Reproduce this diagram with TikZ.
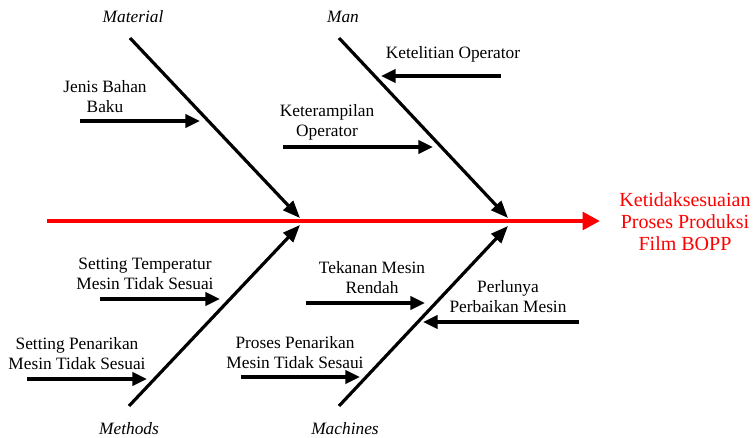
\documentclass[tikz,border=0pt]{standalone}
\usepackage{fontspec}
\setmainfont{Liberation Serif}
\usepackage{xcolor}
\usetikzlibrary{arrows.meta,positioning}

\begin{document}
\begin{tikzpicture}[
    x=0.75pt, y=-0.75pt,
    cause/.style={align=center, inner sep=0pt, font=\fontsize{13}{15}\selectfont},
    category/.style={inner sep=0pt, font=\fontsize{13}{15}\selectfont\itshape},
    effect/.style={align=center, inner sep=0pt, text=red, font=\fontsize{15}{16.5}\selectfont},
    spine/.style={-{Triangle[length=13pt, width=13pt]}, line width=3.6pt, red},
    bone/.style={-{Triangle[length=13pt, width=10pt]}, line width=2.4pt},
    arrow/.style={-{Triangle[length=11pt, width=10pt]}, line width=2.4pt}
]
    \useasboundingbox (0,0) rectangle (753,438);

    % head and spine
    \coordinate (tail) at (47,221);
    \node[effect] (effect) at (685,222) {Ketidaksesuaian\\Proses Produksi\\Film BOPP};
    \coordinate (head) at (600,221);
    \draw[spine] (tail) -- (head);

    % main bones
    \node[category] (material) at (133,17) {Material};
    \node[category] (man) at (343,17) {Man};
    \node[category] (methods) at (129,429) {Methods};
    \node[category] (machines) at (345,429) {Machines};

    \coordinate (matstart) at (130,38);
    \coordinate (matend) at (300,218);
    \coordinate (manstart) at (339,38);
    \coordinate (manend) at (508,218);
    \coordinate (metstart) at (129,406);
    \coordinate (metend) at (300,225);
    \coordinate (macstart) at (339,406);
    \coordinate (macend) at (508,226);

    \draw[bone] (matstart) -- (matend);
    \draw[bone] (manstart) -- (manend);
    \draw[bone] (metstart) -- (metend);
    \draw[bone] (macstart) -- (macend);

    % causes
    \node[cause] (jenis) at (105,97) {Jenis Bahan\\Baku};
    \coordinate (jenisa) at (80,121);
    \coordinate (jenisb) at (200,121);
    \draw[arrow] (jenisa) -- (jenisb);

    \node[cause] (terampil) at (327,122) {Keterampilan\\Operator};
    \coordinate (terampila) at (283,147);
    \coordinate (terampilb) at (433,147);
    \draw[arrow] (terampila) -- (terampilb);

    \node[cause] (teliti) at (453,54) {Ketelitian Operator};
    \coordinate (telitia) at (501,76);
    \coordinate (telitib) at (381,76);
    \draw[arrow] (telitia) -- (telitib);

    \node[cause] (suhu) at (145,274) {Setting Temperatur\\Mesin Tidak Sesuai};
    \coordinate (suhua) at (100,299);
    \coordinate (suhub) at (220,299);
    \draw[arrow] (suhua) -- (suhub);

    \node[cause] (tarik) at (77,354) {Setting Penarikan\\Mesin Tidak Sesuai};
    \coordinate (tarika) at (27,379);
    \coordinate (tarikb) at (147,379);
    \draw[arrow] (tarika) -- (tarikb);

    \node[cause] (proses) at (295,353) {Proses Penarikan\\Mesin Tidak Sesaui};
    \coordinate (prosesa) at (241,377);
    \coordinate (prosesb) at (360,377);
    \draw[arrow] (prosesa) -- (prosesb);

    \node[cause] (tekanan) at (372,278) {Tekanan Mesin\\Rendah};
    \coordinate (tekanana) at (306,303);
    \coordinate (tekananb) at (425,303);
    \draw[arrow] (tekanana) -- (tekananb);

    \node[cause] (perbaikan) at (508,297) {Perlunya\\Perbaikan Mesin};
    \coordinate (perbaikana) at (579,322);
    \coordinate (perbaikanb) at (423,322);
    \draw[arrow] (perbaikana) -- (perbaikanb);
\end{tikzpicture}
\end{document}
